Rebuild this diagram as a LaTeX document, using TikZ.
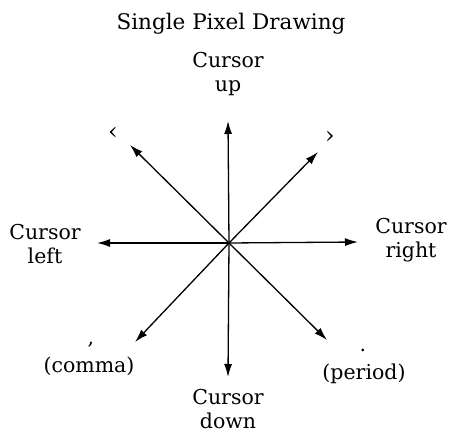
\documentclass[tikz,border=0pt]{standalone}
\usepackage{fontspec}
\setmainfont{DejaVu Serif}
\usetikzlibrary{arrows.meta}
\begin{document}
\begin{tikzpicture}[x=1pt,y=-1pt,
  lbl/.style={font=\fontsize{20.5}{24.5}\selectfont, align=center, inner sep=0pt},
  arr/.style={line width=1.3pt, -{Latex[length=13pt,width=8pt]}}]
\useasboundingbox (0,0) rectangle (449,435);
\node[lbl, font=\fontsize{21.5}{24.5}\selectfont] (title) at (231,24) {Single Pixel Drawing};
\node[lbl] (up) at (228,74) {Cursor\\up};
\node[lbl] (left) at (45,244) {Cursor\\left};
\node[lbl] (right) at (411,240) {Cursor\\right};
\node[lbl] (down) at (228,409) {Cursor\\down};
\node[lbl] (comma) at (89,366) {(comma)};
\node[lbl] (commamark) at (91,345) {,};
\node[lbl] (period) at (364,374) {(period)};
\node[lbl] (periodmark) at (363,350) {.};
\node[lbl, font=\fontsize{24}{24}\selectfont] (lt) at (113,133) {‹};
\node[lbl, font=\fontsize{24}{24}\selectfont] (gt) at (330,137) {›};
\coordinate (c) at (229,243);
\coordinate (tu) at (228,121);
\coordinate (td) at (228,377);
\coordinate (tl) at (97,243);
\coordinate (tr) at (358,242);
\coordinate (tul) at (130,145);
\coordinate (tur) at (318,152);
\coordinate (tdl) at (135,342);
\coordinate (tdr) at (327,340);
\foreach \t in {tu,td,tl,tr,tul,tur,tdl,tdr} \draw[arr] (c) -- (\t);
\end{tikzpicture}
\end{document}
